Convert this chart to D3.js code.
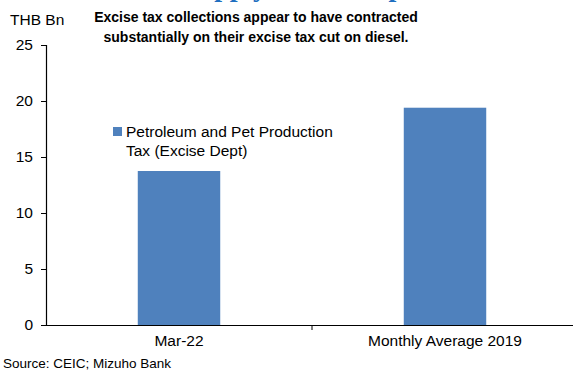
<!DOCTYPE html>
<html>
<head>
<meta charset="utf-8">
<script src="https://cdn.jsdelivr.net/npm/d3@7"></script>
<style>
  html, body { margin: 0; padding: 0; background: #fff; }
  svg { display: block; font-family: Arial, "Liberation Sans", sans-serif; }
</style>
</head>
<body>
<svg id="chart" width="573" height="372"></svg>
<script>
// Excise collections, THB Bn
const categories = ["Mar-22", "Monthly Average 2019"];
const values = [13.75, 19.4];
const yTicks = [0, 5, 10, 15, 20, 25];
const seriesName = ["Petroleum and Pet Production", "Tax (Excise Dept)"];
const titleLines = ["Excise tax collections appear to have contracted",
                    "substantially on their excise tax cut on diesel."];
const headline = "Supply Shock Impact";

const svg = d3.select("#chart");
const barColor = "#4f81bd";
const font = "Arial, 'Liberation Sans', sans-serif";

const plot = { left: 46, right: 578, top: 45, bottom: 325 };

const x = d3.scaleBand().domain(categories).range([plot.left, plot.right]).padding(0);
const y = d3.scaleLinear().domain([0, 25]).range([plot.bottom, plot.top]);

// Page heading running above the frame
svg.append("text")
  .attr("x", 183).attr("y", -4)
  .attr("font-family", "'Liberation Serif', 'Times New Roman', serif")
  .attr("font-weight", "bold")
  .attr("font-size", 28)
  .attr("fill", "#1f6fc0")
  .text(headline);

// Bars
const barFrac = 0.31;
svg.append("g").selectAll("rect")
  .data(values)
  .join("rect")
  .attr("x", (d, i) => x(categories[i]) + x.bandwidth() * (1 - barFrac) / 2)
  .attr("width", x.bandwidth() * barFrac)
  .attr("y", d => y(d))
  .attr("height", d => y(0) - y(d))
  .attr("fill", barColor);

// Y axis
const yAxis = svg.append("g")
  .attr("transform", `translate(${plot.left},0)`)
  .call(d3.axisLeft(y).tickValues(yTicks).tickSize(5).tickPadding(8).tickFormat(d3.format("d")));
yAxis.select(".domain").attr("stroke", "#000").attr("stroke-width", 1.2);
yAxis.selectAll(".tick line").attr("stroke", "#000");
yAxis.selectAll(".tick text").attr("font-size", 15.5).attr("fill", "#000")
  .attr("font-family", font);

// X axis: labels centred in bands, tick marks on band boundaries
const xAxis = svg.append("g")
  .attr("transform", `translate(0,${plot.bottom})`)
  .call(d3.axisBottom(x).tickSize(0).tickPadding(10));
xAxis.select(".domain").attr("stroke", "#000").attr("stroke-width", 1.2);
xAxis.selectAll(".tick text").attr("font-size", 15.5).attr("fill", "#000")
  .attr("font-family", font);
xAxis.selectAll(".boundary")
  .data(categories.slice(1))
  .join("line")
  .attr("x1", d => x(d)).attr("x2", d => x(d))
  .attr("y1", 0).attr("y2", 5)
  .attr("stroke", "#000");

// Unit label
svg.append("text")
  .attr("x", 10).attr("y", 25)
  .attr("font-size", 15.5).attr("fill", "#000")
  .text("THB Bn");

// Title
svg.append("g").selectAll("text")
  .data(titleLines)
  .join("text")
  .attr("x", 256)
  .attr("y", (d, i) => 22 + i * 20)
  .attr("text-anchor", "middle")
  .attr("font-size", 14)
  .attr("font-weight", "bold")
  .attr("fill", "#000")
  .text(d => d);

// Legend
const legend = svg.append("g");
legend.append("rect")
  .attr("x", 113).attr("y", 127).attr("width", 9).attr("height", 9)
  .attr("fill", barColor);
legend.selectAll("text")
  .data(seriesName)
  .join("text")
  .attr("x", 126)
  .attr("y", (d, i) => 137 + i * 19)
  .attr("font-size", 15.5)
  .attr("fill", "#000")
  .text(d => d);

// Source note
svg.append("text")
  .attr("x", 3).attr("y", 368)
  .attr("font-size", 13.5).attr("fill", "#000")
  .text("Source: CEIC; Mizuho Bank");
</script>
</body>
</html>
